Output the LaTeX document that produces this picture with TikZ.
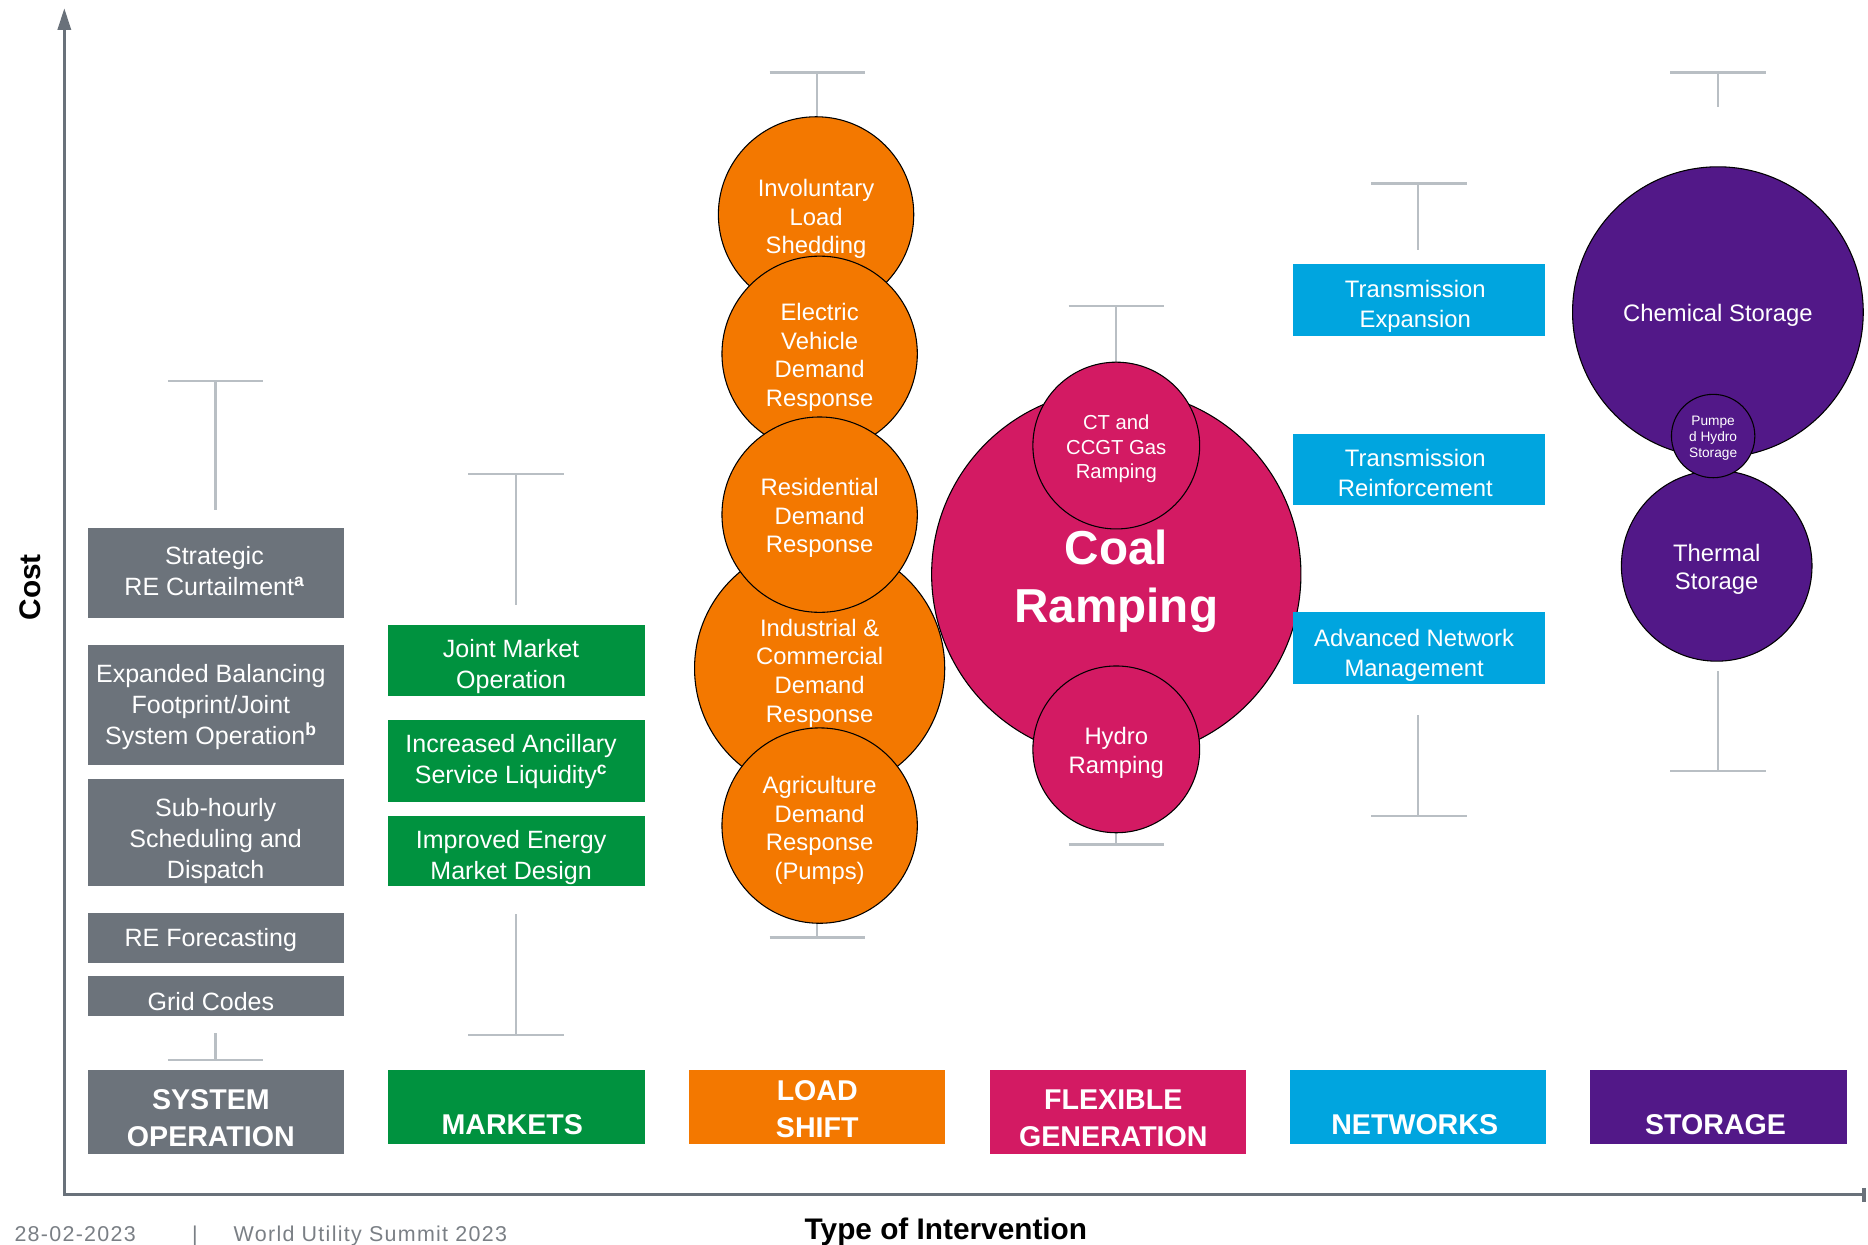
\documentclass[tikz,border=0pt]{standalone}
\usepackage{fontspec}
\setmainfont{Liberation Sans}
\usetikzlibrary{arrows.meta}
\definecolor{sogray}{HTML}{6C737B}
\definecolor{mkgreen}{HTML}{00923F}
\definecolor{lsorange}{HTML}{F37800}
\definecolor{fgpink}{HTML}{D31A63}
\definecolor{nwcyan}{HTML}{00A5DF}
\definecolor{stpurple}{HTML}{521888}
\definecolor{axisgray}{HTML}{69717A}
\definecolor{whiskgray}{HTML}{B9BFC4}
\definecolor{footgray}{HTML}{7A7F85}
\newcommand{\myfs}[2]{\fontsize{#1}{#2}\selectfont}
\begin{document}
\begin{tikzpicture}[x=1pt,y=-1pt,
  itembox/.style={rectangle, minimum width=215, inner sep=0},
  sobox/.style={itembox, fill=sogray, minimum height=#1},
  mkbox/.style={itembox, fill=mkgreen, minimum height=#1},
  nwbox/.style={itembox, fill=nwcyan, minimum width=212, minimum height=60},
  catbox/.style={rectangle, minimum width=215, inner sep=0},
  itemtxt/.style={text=white, inner sep=0, align=center, font=\myfs{21}{26}},
  nwtxt/.style={itemtxt, font=\myfs{20}{25}},
  cattext/.style={text=white, inner sep=0, align=center, font=\bfseries\myfs{24}{31}},
  bub/.style={circle, draw=black, line width=0.9, fill=#1, inner sep=0},
  bubtxt/.style={text=white, align=center, inner sep=0, font=\myfs{20}{24}},
  whisk/.style={whiskgray, line width=2},
  axislbl/.style={font=\bfseries\myfs{25}{30}},
  foot/.style={text=footgray, inner sep=0, anchor=base west, font=\myfs{18}{22}\addfontfeature{LetterSpace=6}}
]
\useasboundingbox (0,0) rectangle (1568,1045);

% axes
\coordinate (ytip) at (54,7);
\coordinate (origin) at (54,1003);
\coordinate (xend) at (1566,1003);
\draw[axisgray, line width=2.5, {Triangle[width=11pt,length=18pt]}-{Bar[width=12pt,line width=3pt]}] (ytip) -- (origin) -- (xend);
\node[axislbl, rotate=90] (costlbl) at (25,493) {Cost};
\node[axislbl, anchor=base] (typelbl) at (794,1040) {Type of Intervention};
\node[foot] (datelbl) at (12,1042.5) {28-02-2023};
\node[foot] (seplbl) at (161,1042.5) {|};
\node[foot] (eventlbl) at (196,1042.5) {World Utility Summit 2023};

% category boxes
\node[catbox, fill=sogray, minimum height=71] (catSO) at (181.5,933.5) {};
\node[cattext] (catSOt) at (177,938.5) {SYSTEM\\OPERATION};
\node[catbox, fill=mkgreen, minimum height=62] (catMK) at (433.5,929) {};
\node[cattext] (catMKt) at (430,944) {MARKETS};
\node[catbox, fill=lsorange, minimum height=62] (catLS) at (685.5,929) {};
\node[cattext] (catLSt) at (686,931) {LOAD\\SHIFT};
\node[catbox, fill=fgpink, minimum height=71] (catFG) at (938.5,933.5) {};
\node[cattext] (catFGt) at (934.5,938.5) {FLEXIBLE\\GENERATION};
\node[catbox, fill=nwcyan, minimum height=62] (catNW) at (1190.5,929) {};
\node[cattext] (catNWt) at (1187.5,944) {NETWORKS};
\node[catbox, fill=stpurple, minimum height=62] (catST) at (1442.5,929) {};
\node[cattext] (catSTt) at (1440,944) {STORAGE};

% system operation
\coordinate (soTopL) at (141,320); \coordinate (soTopR) at (221,320);
\coordinate (soTop) at (181,320); \coordinate (soTopEnd) at (181,428);
\draw[whisk] (soTopL) -- (soTopR); \draw[whisk] (soTop) -- (soTopEnd);
\coordinate (soBotL) at (141,890); \coordinate (soBotR) at (221,890);
\coordinate (soBot) at (181,890); \coordinate (soBotEnd) at (181,867);
\draw[whisk] (soBotL) -- (soBotR); \draw[whisk] (soBot) -- (soBotEnd);
\node[sobox=76] (so1) at (181.5,481) {};
\node[itemtxt] (so1t) at (180,479) {Strategic\\RE Curtailment\textsuperscript{\bfseries a}};
\node[sobox=101] (so2) at (181.5,591.5) {};
\node[itemtxt] (so2t) at (177,593.5) {Expanded Balancing\\Footprint/Joint\\System Operation\textsuperscript{\bfseries b}};
\node[sobox=90] (so3) at (181.5,699) {};
\node[itemtxt] (so3t) at (181,706) {Sub-hourly\\Scheduling and\\Dispatch};
\node[sobox=42] (so4) at (181.5,787) {};
\node[itemtxt] (so4t) at (177,789) {RE Forecasting};
\node[sobox=34] (so5) at (181.5,836) {};
\node[itemtxt] (so5t) at (177,841) {Grid Codes};

% markets
\coordinate (mkTopL) at (393,398); \coordinate (mkTopR) at (473,398);
\coordinate (mkTop) at (433,398); \coordinate (mkTopEnd) at (433,508);
\draw[whisk] (mkTopL) -- (mkTopR); \draw[whisk] (mkTop) -- (mkTopEnd);
\coordinate (mkBotL) at (393,869); \coordinate (mkBotR) at (473,869);
\coordinate (mkBot) at (433,869); \coordinate (mkBotEnd) at (433,767);
\draw[whisk] (mkBotL) -- (mkBotR); \draw[whisk] (mkBot) -- (mkBotEnd);
\node[mkbox=59] (mk1) at (433.5,554.5) {};
\node[itemtxt] (mk1t) at (429,559.5) {Joint Market\\Operation};
\node[mkbox=69] (mk2) at (433.5,638.5) {};
\node[itemtxt] (mk2t) at (429,639.5) {Increased Ancillary\\Service Liquidity\textsuperscript{\bfseries c}};
\node[mkbox=59] (mk3) at (433.5,714.5) {};
\node[itemtxt] (mk3t) at (429,719.5) {Improved Energy\\Market Design};

% load shift
\coordinate (lsTopL) at (646,61); \coordinate (lsTopR) at (726,61);
\coordinate (lsTop) at (686,61); \coordinate (lsTopEnd) at (686,100);
\draw[whisk] (lsTopL) -- (lsTopR); \draw[whisk] (lsTop) -- (lsTopEnd);
\coordinate (lsBotL) at (646,787); \coordinate (lsBotR) at (726,787);
\coordinate (lsBot) at (686,787); \coordinate (lsBotEnd) at (686,772);
\draw[whisk] (lsBotL) -- (lsBotR); \draw[whisk] (lsBot) -- (lsBotEnd);
\node[bub=lsorange, minimum size=210] (ls4) at (688,561) {};
\node[bubtxt] (ls4t) at (688,565) {Industrial \&\\Commercial\\Demand\\Response};
\node[bub=lsorange, minimum size=164] (ls1) at (685,180) {};
\node[bubtxt] (ls1t) at (685,184) {Involuntary\\Load\\Shedding};
\node[bub=lsorange, minimum size=164] (ls2) at (688,297) {};
\node[bubtxt] (ls2t) at (688,300) {Electric\\Vehicle\\Demand\\Response};
\node[bub=lsorange, minimum size=164] (ls3) at (688,432) {};
\node[bubtxt] (ls3t) at (688,435) {Residential\\Demand\\Response};
\node[bub=lsorange, minimum size=164] (ls5) at (688,693) {};
\node[bubtxt] (ls5t) at (688,697) {Agriculture\\Demand\\Response\\(Pumps)};

% flexible generation
\coordinate (fgTopL) at (897,257); \coordinate (fgTopR) at (977,257);
\coordinate (fgTop) at (937,257); \coordinate (fgTopEnd) at (937,306);
\draw[whisk] (fgTopL) -- (fgTopR); \draw[whisk] (fgTop) -- (fgTopEnd);
\coordinate (fgBotL) at (897,709); \coordinate (fgBotR) at (977,709);
\coordinate (fgBot) at (937,709); \coordinate (fgBotEnd) at (937,697);
\draw[whisk] (fgBotL) -- (fgBotR); \draw[whisk] (fgBot) -- (fgBotEnd);
\node[bub=fgpink, minimum size=310] (fg1) at (937,482) {};
\node[bubtxt, font=\bfseries\myfs{40}{49}] (fg1t) at (937,488) {Coal\\Ramping};
\node[bub=fgpink, minimum size=140] (fg2) at (937,374) {};
\node[bubtxt, font=\myfs{17}{20.5}] (fg2t) at (937,377) {CT and\\CCGT Gas\\Ramping};
\node[bub=fgpink, minimum size=140] (fg3) at (937,629) {};
\node[bubtxt] (fg3t) at (937,632) {Hydro\\Ramping};

% networks
\coordinate (nwTopL) at (1151,154); \coordinate (nwTopR) at (1231,154);
\coordinate (nwTop) at (1190,154); \coordinate (nwTopEnd) at (1190,210);
\draw[whisk] (nwTopL) -- (nwTopR); \draw[whisk] (nwTop) -- (nwTopEnd);
\coordinate (nwBotL) at (1151,685); \coordinate (nwBotR) at (1231,685);
\coordinate (nwBot) at (1190,685); \coordinate (nwBotEnd) at (1190,600);
\draw[whisk] (nwBotL) -- (nwBotR); \draw[whisk] (nwBot) -- (nwBotEnd);
\node[nwbox] (nw1) at (1191,252) {};
\node[nwtxt] (nw1t) at (1188,257) {Transmission\\Expansion};
\node[nwbox] (nw2) at (1191,394) {};
\node[nwtxt] (nw2t) at (1188,397) {Transmission\\Reinforcement};
\node[nwbox] (nw3) at (1191,544) {};
\node[nwtxt] (nw3t) at (1187,550) {Advanced Network\\Management};

% storage
\coordinate (stTopL) at (1402,61); \coordinate (stTopR) at (1482,61);
\coordinate (stTop) at (1442,61); \coordinate (stTopEnd) at (1442,90);
\draw[whisk] (stTopL) -- (stTopR); \draw[whisk] (stTop) -- (stTopEnd);
\coordinate (stBotL) at (1402,647); \coordinate (stBotR) at (1482,647);
\coordinate (stBot) at (1442,647); \coordinate (stBotEnd) at (1442,563);
\draw[whisk] (stBotL) -- (stBotR); \draw[whisk] (stBot) -- (stBotEnd);
\node[bub=stpurple, minimum size=244] (st1) at (1442,262) {};
\node[bubtxt] (st1t) at (1442,265) {Chemical Storage};
\node[bub=stpurple, minimum size=160] (st2) at (1441,475) {};
\node[bubtxt] (st2t) at (1441,478) {Thermal\\Storage};
\node[bub=stpurple, minimum size=70] (st3) at (1438,366) {};
\node[bubtxt, font=\myfs{11.5}{13.5}] (st3t) at (1438,368) {Pumpe\\d Hydro\\Storage};
\end{tikzpicture}
\end{document}
